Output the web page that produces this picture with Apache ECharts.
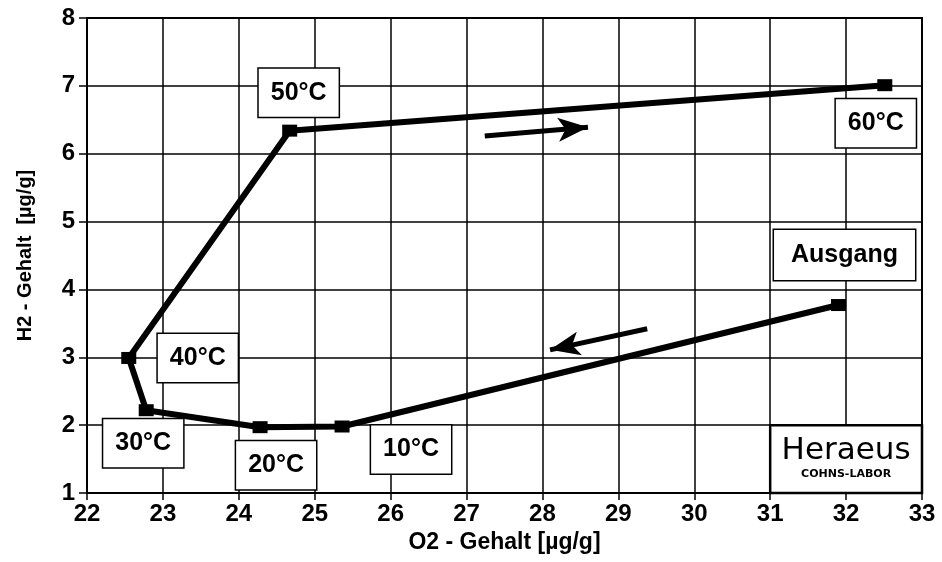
<!DOCTYPE html>
<html>
<head>
<meta charset="utf-8">
<script src="https://cdn.jsdelivr.net/npm/echarts@6/dist/echarts.min.js"></script>
<style>html,body{margin:0;padding:0;background:#fff}#c{width:942px;height:562px}</style>
</head>
<body>
<div id="c"></div>
<script>
// Data
const o2Values = [31.9, 25.36, 24.28, 22.78, 22.55, 24.67, 32.51];
const h2Values = [3.77, 1.98, 1.97, 2.22, 2.99, 6.34, 7.01];
const pointLabels = ['Ausgang', '10°C', '20°C', '30°C', '40°C', '50°C', '60°C'];
const arrowRight = [[27.24, 6.26], [28.6, 6.39]];
const arrowLeft = [[29.38, 3.42], [28.1, 3.11]];
const xTicks = [22, 23, 24, 25, 26, 27, 28, 29, 30, 31, 32, 33];
const yTicks = [1, 2, 3, 4, 5, 6, 7, 8];
const logoBox = [[31, 2], [33, 1]];
const logoTitle = 'Heraeus';
const logoSub = 'COHNS-LABOR';

// Styling (label offsets in pixels, relative to the point)
const labelOffsets = [[6, -50], [69, 23], [16, 38], [-3, 33], [69, 0], [9, -38], [-9, 38]];
const FONT = '"Liberation Sans", Arial, sans-serif';

const seriesData = o2Values.map((x, i) => ({
  value: [x, h2Values[i]],
  name: pointLabels[i],
  label: {
    show: true,
    position: 'inside',
    formatter: '{b}',
    fontFamily: FONT,
    fontWeight: 'bold',
    fontSize: 25,
    color: '#000',
    backgroundColor: '#fff',
    borderColor: '#000',
    borderWidth: 1.5,
    lineHeight: 28,
    padding: pointLabels[i].length > 5 ? [11, 17] : [10, 12]
  }
}));

const chart = echarts.init(document.getElementById('c'), null, {renderer: 'canvas'});
chart.setOption({
  animation: false,
  backgroundColor: '#fff',
  grid: {left: 87, right: 20, top: 18, bottom: 69, show: true, borderColor: '#000', borderWidth: 2, backgroundColor: 'transparent'},
  xAxis: {
    type: 'value', min: xTicks[0], max: xTicks[xTicks.length - 1], interval: 1,
    name: 'O2 - Gehalt [µg/g]', nameLocation: 'middle', nameGap: 36,
    nameTextStyle: {fontFamily: FONT, fontWeight: 'bold', fontSize: 23, color: '#000'},
    axisLine: {show: true, lineStyle: {color: '#000', width: 2}},
    axisTick: {show: true, length: 7, lineStyle: {color: '#000', width: 1.5}},
    axisLabel: {fontFamily: FONT, fontWeight: 'bold', fontSize: 24, color: '#000', margin: 9},
    splitLine: {show: true, lineStyle: {color: '#000', width: 1.5}}
  },
  yAxis: {
    type: 'value', min: yTicks[0], max: yTicks[yTicks.length - 1], interval: 1,
    name: 'H2 - Gehalt  [µg/g]', nameLocation: 'middle', nameGap: 52,
    nameTextStyle: {fontFamily: FONT, fontWeight: 'bold', fontSize: 20, color: '#000'},
    axisLine: {show: true, lineStyle: {color: '#000', width: 2}},
    axisTick: {show: true, length: 8, lineStyle: {color: '#000', width: 1.5}},
    axisLabel: {fontFamily: FONT, fontWeight: 'bold', fontSize: 24, color: '#000', margin: 12},
    splitLine: {show: true, lineStyle: {color: '#000', width: 1.5}}
  },
  series: [
    {
      type: 'line',
      data: seriesData,
      symbol: 'rect',
      symbolSize: [15, 12],
      showAllSymbol: true,
      itemStyle: {color: '#000'},
      lineStyle: {color: '#000', width: 6},
      z: 3,
      labelLayout: function (params) {
        const o = labelOffsets[params.dataIndex] || [0, 0];
        return {dx: o[0], dy: o[1], hideOverlap: false, moveOverlap: false};
      },
      markArea: {
        silent: true,
        itemStyle: {color: '#fff', borderColor: '#000', borderWidth: 2.5},
        label: {
          show: true, position: 'inside',
          formatter: '{t|' + logoTitle + '}\n{s|' + logoSub + '}',
          rich: {
            t: {fontFamily: '"DejaVu Sans", sans-serif', fontSize: 31, color: '#000', lineHeight: 30, align: 'center'},
            s: {fontFamily: '"DejaVu Sans", sans-serif', fontWeight: 'bold', fontSize: 11, color: '#000', lineHeight: 16, align: 'center'}
          }
        },
        data: [[{coord: logoBox[0]}, {coord: logoBox[1]}]]
      },
      markLine: {
        silent: true,
        symbol: ['none', 'arrow'],
        symbolSize: [18, 30],
        lineStyle: {color: '#000', width: 5, type: 'solid'},
        label: {show: false},
        data: [
          [{coord: arrowRight[0]}, {coord: arrowRight[1]}],
          [{coord: arrowLeft[0]}, {coord: arrowLeft[1]}]
        ]
      }
    }
  ]
});
</script>
</body>
</html>
